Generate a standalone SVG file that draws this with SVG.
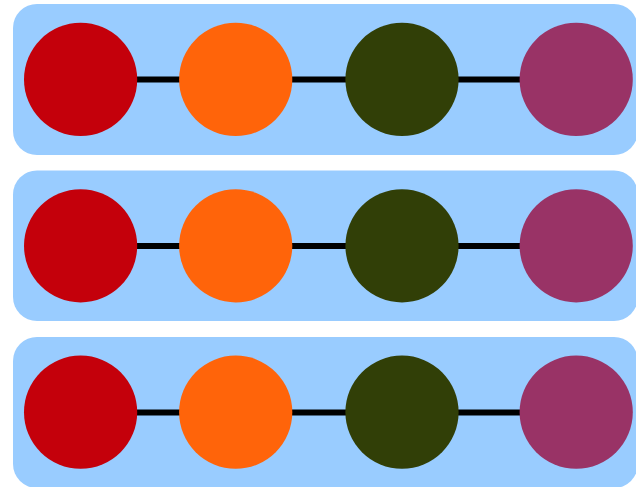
<svg xmlns="http://www.w3.org/2000/svg" width="636" height="487" viewBox="0 0 636 487">
  <style>
    .row { fill: #99ccff; }
    .edge { stroke: #000000; stroke-width: 6; fill: none; }
    .n1 { fill: #c4000b; }
    .n2 { fill: #ff640a; }
    .n3 { fill: #313f07; }
    .n4 { fill: #993366; }
  </style>

  <!-- row backgrounds -->
  <g id="rows">
    <rect class="row" x="13" y="4" width="625" height="151" rx="24" ry="24"/>
    <rect class="row" x="13" y="170.5" width="625" height="150.5" rx="24" ry="24"/>
    <rect class="row" x="13" y="337" width="625" height="151" rx="24" ry="24"/>
  </g>

  <!-- connectors -->
  <g id="connectors">
    <line class="edge" x1="120" y1="79.6" x2="540" y2="79.6"/>
    <line class="edge" x1="120" y1="246" x2="540" y2="246"/>
    <line class="edge" x1="120" y1="412.4" x2="540" y2="412.4"/>
  </g>

  <!-- row 1 -->
  <g id="row1-a"><circle class="n1" cx="80.6" cy="79.4" r="56.6"/></g>
  <g id="row1-b"><circle class="n2" cx="235.7" cy="79.4" r="56.6"/></g>
  <g id="row1-c"><circle class="n3" cx="402" cy="79.4" r="56.6"/></g>
  <g id="row1-d"><circle class="n4" cx="576.2" cy="79.4" r="56.6"/></g>

  <!-- row 2 -->
  <g id="row2-a"><circle class="n1" cx="80.6" cy="245.8" r="56.6"/></g>
  <g id="row2-b"><circle class="n2" cx="235.7" cy="245.8" r="56.6"/></g>
  <g id="row2-c"><circle class="n3" cx="402" cy="245.8" r="56.6"/></g>
  <g id="row2-d"><circle class="n4" cx="576.2" cy="245.8" r="56.6"/></g>

  <!-- row 3 -->
  <g id="row3-a"><circle class="n1" cx="80.6" cy="412.2" r="56.6"/></g>
  <g id="row3-b"><circle class="n2" cx="235.7" cy="412.2" r="56.6"/></g>
  <g id="row3-c"><circle class="n3" cx="402" cy="412.2" r="56.6"/></g>
  <g id="row3-d"><circle class="n4" cx="576.2" cy="412.2" r="56.6"/></g>
</svg>
